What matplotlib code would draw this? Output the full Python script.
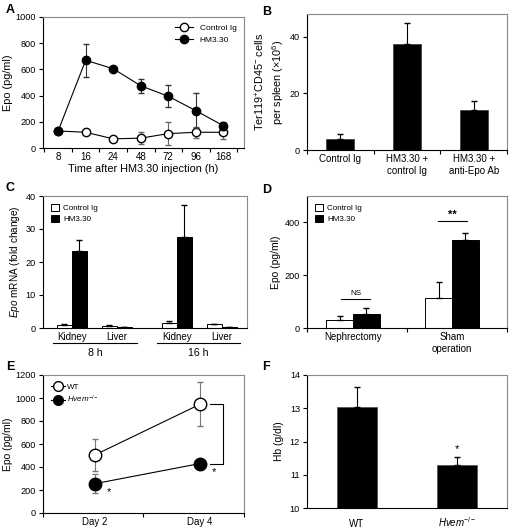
import numpy as np
import matplotlib.pyplot as plt
from matplotlib.lines import Line2D
from matplotlib.patches import Patch

plt.rcParams['font.family'] = ['Liberation Sans', 'DejaVu Sans']
plt.rcParams['mathtext.fontset'] = 'custom'
plt.rcParams['mathtext.rm'] = 'Liberation Sans'
plt.rcParams['mathtext.it'] = 'Liberation Sans:italic'
plt.rcParams['mathtext.default'] = 'regular'
plt.rcParams['font.size'] = 6.5

# panel A
a_hours = ['8', '16', '24', '48', '72', '96', '168']
a_ctrl = [130, 120, 70, 75, 110, 120, 120]
a_ctrl_err = [8, 12, 8, 45, 85, 40, 50]
a_hm = [130, 670, 605, 475, 395, 285, 170]
a_hm_err = [8, 125, 10, 55, 85, 135, 30]

# panel B
b_groups = ['Control Ig', 'HM3.30 +\ncontrol Ig', 'HM3.30 +\nanti-Epo Ab']
b_vals = [4.0, 37.5, 14.0]
b_err = [1.5, 7.2, 3.2]

# panel C
c_tissue = ['Kidney', 'Liver', 'Kidney', 'Liver']
c_times = ['8 h', '16 h']
c_ctrl = [1.0, 0.6, 1.5, 1.2]
c_ctrl_err = [0.15, 0.3, 0.6, 0.15]
c_hm = [23.3, 0.2, 27.5, 0.2]
c_hm_err = [3.5, 0.05, 9.7, 0.05]

# panel D
d_groups = ['Nephrectomy', 'Sham\noperation']
d_ctrl = [32, 115]
d_ctrl_err = [15, 58]
d_hm = [52, 333]
d_hm_err = [24, 25]

# panel E
e_days = ['Day 2', 'Day 4']
e_wt = [505, 945]
e_wt_err = [140, 190]
e_ko = [255, 430]
e_ko_err = [80, 15]

# panel F
f_groups = ['WT', r'$\mathit{Hvem}^{-/-}$']
f_vals = [13.05, 11.28]
f_err = [0.58, 0.25]

W, H = 512, 531
fig = plt.figure(figsize=(W / 100, H / 100), dpi=100)


def box(l, r, t, b):
    return fig.add_axes([l / W, 1 - b / H, (r - l) / W, (b - t) / H])


def style(ax):
    for s in ['left', 'bottom']:
        ax.spines[s].set_color('black')
        ax.spines[s].set_linewidth(0.8)
    for s in ['top', 'right']:
        ax.spines[s].set_color('#8a8a8a')
        ax.spines[s].set_linewidth(0.8)
    ax.tick_params(axis='y', direction='out', length=3, width=0.8, labelsize=6.6, pad=2)
    ax.tick_params(axis='x', which='major', length=0, labelsize=7.0, pad=3)
    ax.tick_params(axis='x', which='minor', direction='out', length=3, width=0.8)


def letter(x, y, s):
    fig.text(x / W, 1 - y / H, s, fontsize=9, fontweight='bold', ha='left', va='center')


# ---- A
ax = box(43, 244, 17, 148)
xa = np.arange(len(a_hours))
ax.errorbar(xa, a_ctrl, yerr=a_ctrl_err, color='black', ecolor='#666666', elinewidth=0.8,
            capsize=2.2, marker='o', mfc='white', mec='black', ms=6, lw=0.8, zorder=3)
ax.errorbar(xa, a_hm, yerr=a_hm_err, color='black', ecolor='#333333', elinewidth=0.8,
            capsize=2.2, marker='o', mfc='black', mec='black', ms=6, lw=0.8, zorder=4)
ax.set_xlim(-0.55, 6.75)
ax.set_ylim(0, 1000)
ax.set_yticks(range(0, 1001, 200))
ax.set_xticks(xa)
ax.set_xticklabels(a_hours)
ax.set_xticks(np.arange(-0.5, 6.6, 1), minor=True)
ax.set_xlabel('Time after HM3.30 injection (h)', fontsize=7.8, labelpad=1)
ax.set_ylabel('Epo (pg/ml)', fontsize=7.8, labelpad=2)
style(ax)
ax.legend(handles=[Line2D([], [], color='black', lw=0.8, marker='o', mfc='white', mec='black', ms=6),
                   Line2D([], [], color='black', lw=0.8, marker='o', mfc='black', mec='black', ms=6)],
          labels=['Control Ig', 'HM3.30'], loc='upper right', frameon=False, fontsize=6,
          handlelength=2.2, borderaxespad=0.5, labelspacing=0.5)
letter(6, 10, 'A')

# ---- B
ax = box(307, 507, 14, 150)
xb = np.arange(len(b_groups))
ax.bar(xb, b_vals, width=0.42, color='black', edgecolor='#444444', lw=0.6)
ax.errorbar(xb, b_vals, yerr=[[0] * 3, b_err], fmt='none', ecolor='black', elinewidth=0.8, capsize=2.2)
ax.set_xlim(-0.5, 2.5)
ax.set_ylim(0, 48)
ax.set_yticks([0, 20, 40])
ax.set_xticks(xb)
ax.set_xticklabels(b_groups, fontsize=7.3)
ax.set_xticks(np.arange(-0.5, 2.6, 1), minor=True)
ax.set_ylabel('Ter119$^{+}$CD45$^{-}$ cells\nper spleen (\u00d710$^{6}$)', fontsize=7.8, labelpad=3)
style(ax)
letter(262, 12, 'B')

# ---- C
ax = box(43, 247, 196, 328)
xc = np.array([0, 1, 2.333, 3.333])
bw = 0.333
ax.bar(xc - bw / 2, c_ctrl, width=bw, color='white', edgecolor='black', lw=0.7)
ax.bar(xc + bw / 2, c_hm, width=bw, color='black', edgecolor='black', lw=0.7)
ax.errorbar(xc - bw / 2, c_ctrl, yerr=[[0] * 4, c_ctrl_err], fmt='none', ecolor='black', elinewidth=0.8, capsize=2)
ax.errorbar(xc + bw / 2, c_hm, yerr=[[0] * 4, c_hm_err], fmt='none', ecolor='black', elinewidth=0.8, capsize=2)
ax.set_xlim(-0.644, 3.89)
ax.set_ylim(0, 40)
ax.set_yticks(range(0, 41, 10))
ax.set_xticks(xc)
ax.set_xticklabels(c_tissue, fontsize=7.6)
ax.set_ylabel(r'$\mathit{Epo}$ mRNA (fold change)', fontsize=7.2, labelpad=3)
style(ax)
tr = ax.get_xaxis_transform()
for (x0, x1), t in zip([(-0.42, 1.44), (1.89, 3.73)], c_times):
    ax.plot([x0, x1], [-0.115, -0.115], color='black', lw=0.8, transform=tr, clip_on=False)
    ax.text((x0 + x1) / 2, -0.19, t, transform=tr, ha='center', va='center', fontsize=7.6)
ax.legend(handles=[Patch(facecolor='white', edgecolor='black', lw=0.7),
                   Patch(facecolor='black', edgecolor='black', lw=0.7)],
          labels=['Control Ig', 'HM3.30'], loc='upper left', frameon=False, fontsize=5.8,
          handlelength=1.0, handleheight=1.0, borderaxespad=0.6, labelspacing=0.3, handletextpad=0.5)
letter(6, 188, 'C')

# ---- D
ax = box(307, 507, 196, 328)
xd = np.arange(len(d_groups))
bw = 0.27
ax.bar(xd - bw / 2, d_ctrl, width=bw, color='white', edgecolor='black', lw=0.7)
ax.bar(xd + bw / 2, d_hm, width=bw, color='black', edgecolor='black', lw=0.7)
ax.errorbar(xd - bw / 2, d_ctrl, yerr=[[0] * 2, d_ctrl_err], fmt='none', ecolor='black', elinewidth=0.8, capsize=2)
ax.errorbar(xd + bw / 2, d_hm, yerr=[[0] * 2, d_hm_err], fmt='none', ecolor='black', elinewidth=0.8, capsize=2)
ax.set_xlim(-0.465, 1.556)
ax.set_ylim(0, 500)
ax.set_yticks([0, 200, 400])
ax.set_xticks(xd)
ax.set_xticklabels(d_groups, fontsize=7.6)
ax.set_xticks([-0.465, 0.545, 1.556], minor=True)
ax.set_ylabel('Epo (pg/ml)', fontsize=7.4, labelpad=3)
style(ax)
ax.plot([-0.12, 0.17], [110, 110], color='black', lw=0.8)
ax.text(0.025, 117, 'NS', ha='center', va='bottom', fontsize=5.8)
ax.plot([0.86, 1.15], [405, 405], color='black', lw=0.8)
ax.text(1.005, 410, '**', ha='center', va='bottom', fontsize=8, fontweight='bold')
ax.legend(handles=[Patch(facecolor='white', edgecolor='black', lw=0.7),
                   Patch(facecolor='black', edgecolor='black', lw=0.7)],
          labels=['Control Ig', 'HM3.30'], loc='upper left', frameon=False, fontsize=5.8,
          handlelength=1.0, handleheight=1.0, borderaxespad=0.6, labelspacing=0.3, handletextpad=0.5)
letter(262, 190, 'D')

# ---- E
ax = box(43, 244, 375, 513)
xe = np.arange(len(e_days))
ax.errorbar(xe, e_wt, yerr=e_wt_err, color='black', ecolor='#777777', elinewidth=0.8, capsize=2.5,
            marker='o', mfc='white', mec='black', ms=9, lw=0.8, zorder=3)
ax.errorbar(xe, e_ko, yerr=e_ko_err, color='black', ecolor='#777777', elinewidth=0.8, capsize=2.5,
            marker='o', mfc='black', mec='black', ms=9, lw=0.8, zorder=4)
ax.set_xlim(-0.495, 1.42)
ax.set_ylim(0, 1200)
ax.set_yticks(range(0, 1201, 200))
ax.set_xticks(xe)
ax.set_xticklabels(e_days, fontsize=7.4)
ax.set_xticks([-0.495, 0.46, 1.42], minor=True)
ax.set_ylabel('Epo (pg/ml)', fontsize=7.4, labelpad=2)
style(ax)
ax.plot([1.10, 1.22, 1.22, 1.10], [e_wt[1], e_wt[1], e_ko[1], e_ko[1]], color='black', lw=0.8)
ax.text(0.13, e_ko[0] - 70, '*', ha='center', va='center', fontsize=8)
ax.text(1.13, e_ko[1] - 70, '*', ha='center', va='center', fontsize=8)
ax.legend(handles=[Line2D([], [], color='black', lw=0.8, marker='o', mfc='white', mec='black', ms=7),
                   Line2D([], [], color='black', lw=0.8, marker='o', mfc='black', mec='black', ms=7)],
          labels=['WT', r'$\mathit{Hvem}^{-/-}$'], loc='upper left', frameon=False, fontsize=5.8,
          handlelength=1.7, borderaxespad=0.6, labelspacing=0.4, handletextpad=0.3)
letter(6, 367, 'E')

# ---- F
ax = box(307, 507, 375, 508)
xf = np.arange(len(f_groups))
ax.bar(xf, f_vals, width=0.4, color='black', edgecolor='#555555', lw=0.6)
ax.errorbar(xf, f_vals, yerr=[[0] * 2, f_err], fmt='none', ecolor='black', elinewidth=0.8, capsize=2.5)
ax.set_xlim(-0.5, 1.5)
ax.set_ylim(10, 14)
ax.set_yticks(range(10, 15))
ax.set_xticks(xf)
ax.set_xticklabels(f_groups, fontsize=7.4)
for lab in ax.get_xticklabels():
    lab.set_verticalalignment('baseline')
ax.set_ylabel('Hb (g/dl)', fontsize=7.4, labelpad=4)
style(ax)
ax.tick_params(axis='x', pad=14)
ax.text(1, f_vals[1] + f_err[1] + 0.08, '*', ha='center', va='bottom', fontsize=8)
letter(262, 367, 'F')

fig.savefig('out.png', dpi=100)
